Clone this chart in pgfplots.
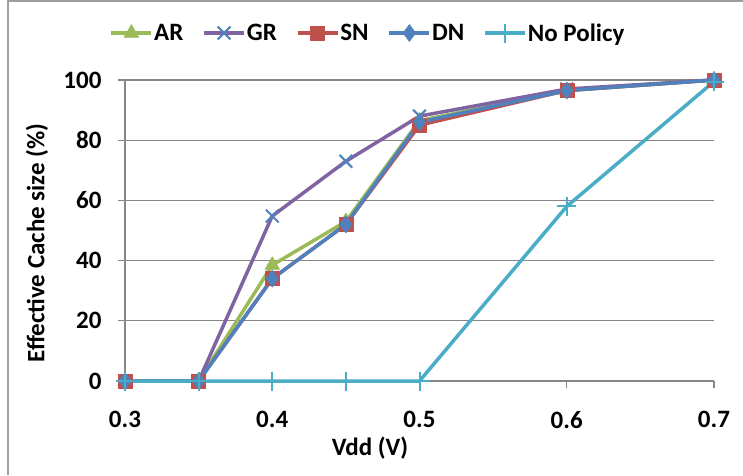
\documentclass[border=0pt]{standalone}
\usepackage{pgfplots}
\pgfplotsset{compat=1.18}
\usepackage{fontspec}
\setmainfont{Carlito}
\definecolor{cAR}{HTML}{9BBB59}
\definecolor{cGR}{HTML}{8064A2}
\definecolor{cSN}{HTML}{C0504D}
\definecolor{cDN}{HTML}{4F81BD}
\definecolor{cNP}{HTML}{4BACC6}
\definecolor{axgray}{HTML}{868686}
\begin{document}
\begin{tikzpicture}[x=1pt,y=1pt]
\path[use as bounding box] (0,0) rectangle (743,475);
\draw[axgray!80, line width=1.2pt] (8,0) -- (8,474) -- (743,474);
\begin{axis}[
  at={(125pt,94pt)}, anchor=south west,
  scale only axis, width=589pt, height=301pt,
  xmin=0.3, xmax=0.7, ymin=0, ymax=100,
  xtick={0.3,0.4,0.5,0.6,0.7},
  ytick={0,20,40,60,80,100},
  xticklabel style={/pgf/number format/fixed, /pgf/number format/precision=1, /pgf/number format/fixed zerofill},
  /pgf/number format/assume math mode=true,
  ticklabel style={font=\fontsize{25}{29}\selectfont\bfseries},
  xticklabel style={yshift=-20pt},
  yticklabel style={xshift=-13pt},
  axis x line*=bottom, axis y line*=left,
  axis line style={axgray, line width=1.2pt, -},
  tick style={axgray, line width=1.2pt},
  tick align=outside, major tick length=7pt,
  ymajorgrids, grid style={axgray, line width=1.2pt},
  clip=false,
  legend columns=5,
  legend style={at={(368pt-125pt,442pt-94pt)}, anchor=center, draw=none, fill=none,
    font=\fontsize{25}{29}\selectfont\bfseries,
    /tikz/every even column/.append style={column sep=17pt},
    /tikz/every odd column/.append style={column sep=-1pt}},
  legend cell align=left,
  legend image code/.code={\draw[mark repeat=2,mark phase=2] plot coordinates {(0pt,0pt)(20pt,0pt)(40pt,0pt)};},
  every axis plot/.append style={line width=3.5pt, line join=round},
]
\addplot[cAR, mark=triangle*, mark size=8.5pt, mark options={solid, line width=0.5pt}] coordinates {(0.3,0)(0.35,0)(0.4,38.5)(0.45,53)(0.5,86.5)(0.6,96.5)(0.7,100)};
\addlegendentry{AR}
\addplot[cGR, mark=x, mark size=9pt, mark options={cDN, solid, line width=2pt}] coordinates {(0.3,0)(0.35,0)(0.4,54.8)(0.45,73)(0.5,88)(0.6,97)(0.7,100)};
\addlegendentry{GR}
\addplot[cSN, mark=square*, mark size=7pt, mark options={solid, line width=0.5pt}] coordinates {(0.3,0)(0.35,0)(0.4,34)(0.45,52)(0.5,85)(0.6,96.5)(0.7,100)};
\addlegendentry{SN}
\addplot[cDN, mark=diamond*, mark size=8.5pt, mark options={solid, line width=0.5pt}] coordinates {(0.3,0)(0.35,0)(0.4,34)(0.45,52)(0.5,86)(0.6,96.5)(0.7,100)};
\addlegendentry{DN}
\addplot[cNP, mark=+, mark size=9.5pt, mark options={solid, line width=2pt}] coordinates {(0.3,0)(0.35,0)(0.4,0)(0.45,0)(0.5,0)(0.6,58)(0.7,99.5)};
\addlegendentry{No Policy}
\end{axis}
\node[font=\fontsize{25}{29}\selectfont\bfseries] at (370,27) {Vdd (V)};
\node[font=\fontsize{25}{29}\selectfont\bfseries, rotate=90] at (37,232) {Effective Cache size (\%)};
\end{tikzpicture}
\end{document}
